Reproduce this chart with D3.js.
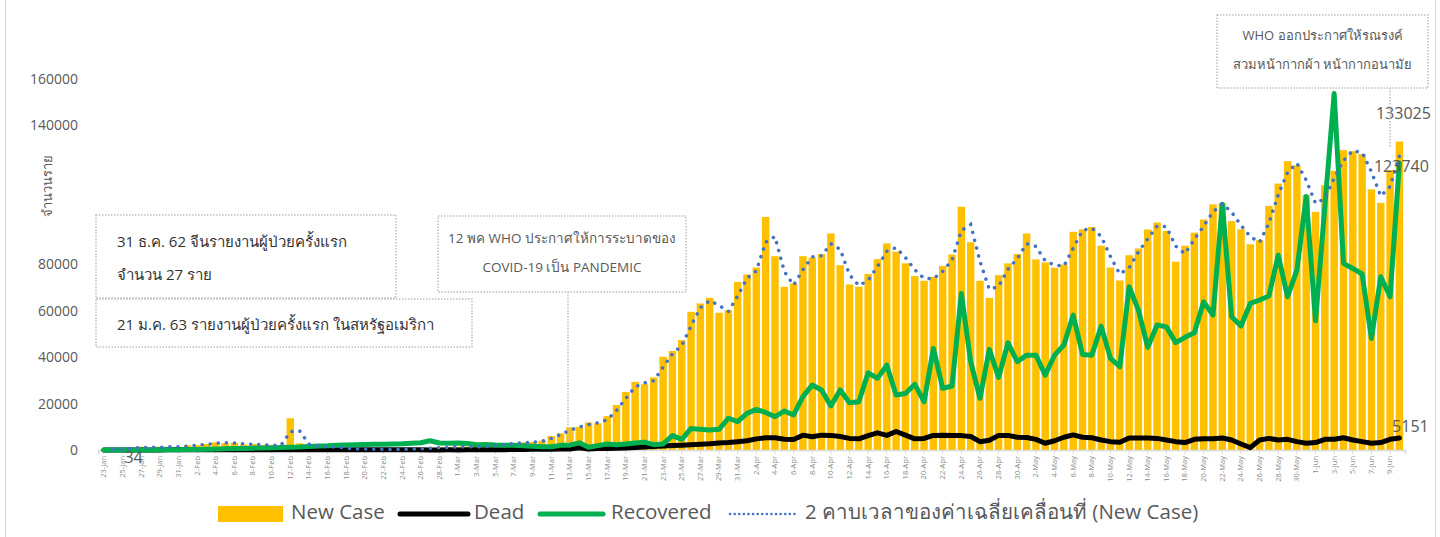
<!DOCTYPE html>
<html>
<head>
<meta charset="utf-8">
<script src="https://cdnjs.cloudflare.com/ajax/libs/d3/7.8.5/d3.min.js"></script>
<style>
  body { margin: 0; background: #fff; }
  svg text { font-family: "Open Sans", "Noto Sans", "DejaVu Sans", sans-serif; }
</style>
</head>
<body>
<div id="chart"></div>
<script>
// data (one value per day, 23-Jan .. 10-Jun)
var startDate = new Date(2020, 0, 23);

var newCase = [
  200, 300, 600, 800, 1400, 900, 1400, 1400, 1400, 2000,
  2100, 2600, 3300, 2900, 3100, 2300, 2600, 2100, 2000, 2000,
  13700, 2900, 2100, 1300, 1500, 1000, 600, 400, 400, 300,
  300, 200, 400, 400, 600, 900, 1100, 1200, 1400, 1400,
  1400, 1600, 2000, 2600, 3000, 3300, 3400, 4000, 6000, 7200,
  9800, 10000, 11900, 11500, 14600, 19400, 25000, 29400, 28400, 31300,
  40200, 42700, 47400, 59600, 63200, 65600, 59200, 60300, 72500, 75700,
  78700, 100500, 83600, 70400, 71800, 83600, 83000, 84500, 93400, 79700,
  71400, 70400, 75900, 82300, 89100, 85500, 80500, 75000, 73000, 74700,
  79400, 84300, 104900, 89600, 73000, 65600, 75400, 80500, 84500, 93400,
  82200, 80900, 78600, 80000, 94100, 95200, 96200, 88100, 78700, 73100,
  84000, 86900, 95100, 98100, 94500, 81200, 88100, 93700, 99400, 105900,
  106500, 98700, 95200, 88700, 90500, 105300, 114900, 124600, 122800, 110000,
  102700, 114200, 120400, 129300, 128900, 127600, 112400, 106600, 120700, 133025
];

var dead = [
  20, 20, 15, 25, 25, 40, 50, 60, 60, 70,
  85, 60, 65, 70, 70, 85, 90, 100, 110, 100,
  250, 120, 140, 140, 100, 110, 120, 130, 100, 110,
  90, 70, 80, 70, 60, 50, 40, 60, 50, 60,
  70, 90, 100, 150, 200, 250, 300, 350, 350, 400,
  450, 1000, 400, 600, 700, 800, 900, 1100, 1300, 1500,
  1700, 1900, 2100, 2300, 2500, 2700, 3000, 3200, 3600, 4000,
  4800, 5300, 5300, 4600, 4500, 6400, 5700, 6400, 6300, 5800,
  5000, 4800, 6200, 7400, 6300, 8000, 6400, 4800, 5000, 6300,
  6400, 6300, 6200, 5800, 3600, 4200, 6300, 6300, 5500, 5400,
  4600, 2900, 4000, 5500, 6500, 5500, 5300, 4300, 3600, 3300,
  5200, 5200, 5200, 5000, 4300, 3600, 3200, 4600, 4900, 4900,
  5200, 4300, 2600, 1000, 4300, 5000, 4300, 4600, 3600, 2900,
  3200, 4600, 4600, 5300, 4300, 3600, 2900, 3200, 4600, 5151
];

var recovered = [
  0, 0, 10, 20, 40, 50, 80, 100, 150, 200,
  250, 300, 400, 500, 600, 700, 800, 900, 1000, 1100,
  1200, 1300, 1500, 1700, 1800, 2000, 2200, 2300, 2400, 2500,
  2500, 2600, 2700, 2900, 3100, 4000, 3000, 2900, 3000, 2800,
  2300, 2400, 2200, 2100, 2000, 1800, 1600, 1400, 1400, 2000,
  2100, 3100, 1200, 1900, 2600, 2300, 2600, 3000, 3400, 2300,
  2600, 6200, 4600, 9300, 8900, 8600, 8900, 13700, 12200, 15800,
  17500, 16200, 14400, 16800, 15100, 23000, 28000, 25900, 19000, 25900,
  20400, 20800, 33300, 30900, 36600, 23700, 24400, 28400, 20800, 43800,
  26600, 27600, 67500, 38100, 22300, 43400, 31300, 46200, 38100, 40900,
  40900, 32300, 40900, 45300, 58200, 41200, 40900, 53400, 39500, 35900,
  70400, 60300, 44300, 53900, 53100, 46300, 48600, 50600, 63900, 58200,
  106000, 57500, 53500, 63200, 64700, 66400, 84000, 66100, 77600, 109300,
  55700, 105000, 153700, 80500, 78300, 75900, 48100, 74700, 66100, 123740
];

var yTicks = [0, 20000, 40000, 60000, 80000, 140000, 160000];

// labels shown next to single points
var pointLabels = [
  {series: "dead", index: 2, text: "34", dx: 11, dy: 9},
  {series: "newCase", index: 139, text: "133025", dx: 4, dy: -27},
  {series: "recovered", index: 139, text: "123740", dx: 2, dy: 5},
  {series: "dead", index: 139, text: "5151", dx: 11, dy: -10}
];

var notes = [
  {x: 96, y: 215, w: 300, h: 83, anchor: "start", size: 15, fill: "#333333",
   lines: ["31 ธ.ค. 62 จีนรายงานผู้ป่วยครั้งแรก", "จำนวน 27 ราย"]},
  {x: 96, y: 299, w: 376, h: 48, anchor: "start", size: 15, fill: "#333333",
   lines: ["21 ม.ค. 63 รายงานผู้ป่วยครั้งแรก ในสหรัฐอเมริกา"]},
  {x: 438, y: 216, w: 248, h: 76, anchor: "middle", size: 13.5, fill: "#595959",
   lines: ["12 พค WHO ประกาศให้การระบาดของ", "COVID-19 เป็น PANDEMIC"], leader: [568, 445]},
  {x: 1217, y: 15, w: 211, h: 73, anchor: "middle", size: 13, fill: "#595959",
   lines: ["WHO ออกประกาศให้รณรงค์", "สวมหน้ากากผ้า หน้ากากอนามัย"], leader: [1390, 148]}
];

var width = 1440, height = 537;
var dates = newCase.map(function(d, i) { return d3.timeDay.offset(startDate, i); });
var fmt = d3.timeFormat("%-d-%b");

var svg = d3.select("#chart").append("svg")
  .attr("width", width).attr("height", height);

// frame
svg.append("rect").attr("x", 5.5).attr("y", -2).attr("width", 1430).attr("height", 541)
  .attr("fill", "none").attr("stroke", "#d9d9d9");

var x = d3.scaleBand().domain(d3.range(newCase.length)).range([98.3, 1405]).padding(0.2);
var y = d3.scaleLinear().domain([0, 160000]).range([450, 79]);
var cx = function(i) { return x(i) + x.bandwidth() / 2; };

// y axis (labels only)
var yAxis = svg.append("g").attr("transform", "translate(78,0)")
  .call(d3.axisLeft(y).tickValues(yTicks).tickSize(0).tickPadding(0).tickFormat(d3.format("d")));
yAxis.select(".domain").remove();
yAxis.selectAll("text").attr("fill", "#595959").style("font-size", "14px");

svg.append("text")
  .attr("transform", "translate(52,186) rotate(-90)")
  .attr("text-anchor", "middle").attr("fill", "#595959").style("font-size", "13px")
  .text("จำนวนราย");

// bars
svg.append("g").selectAll("rect").data(newCase).enter().append("rect")
  .attr("x", function(d, i) { return x(i); })
  .attr("width", x.bandwidth())
  .attr("y", function(d) { return y(d); })
  .attr("height", function(d) { return 450 - y(d); })
  .attr("fill", "#FFC000");

// x axis
var xAxis = svg.append("g").attr("transform", "translate(0,450)")
  .call(d3.axisBottom(x)
    .tickValues(d3.range(0, newCase.length, 2))
    .tickSize(4)
    .tickFormat(function(i) { return fmt(dates[i]); }));
xAxis.select(".domain").attr("stroke", "#d9d9d9").attr("stroke-width", 1.5);
xAxis.selectAll("line").attr("stroke", "#d9d9d9");
xAxis.selectAll("text")
  .attr("transform", "rotate(-90)")
  .attr("text-anchor", "end")
  .attr("x", -6).attr("y", 0).attr("dy", "0.32em")
  .attr("fill", "#8c8c8c")
  .style("font-size", "7.5px");

var line = d3.line()
  .x(function(d, i) { return cx(i); })
  .y(function(d) { return y(d); });

svg.append("path").datum(dead).attr("d", line)
  .attr("fill", "none").attr("stroke", "#000").attr("stroke-width", 5)
  .attr("stroke-linejoin", "round").attr("stroke-linecap", "round");

svg.append("path").datum(recovered).attr("d", line)
  .attr("fill", "none").attr("stroke", "#00B050").attr("stroke-width", 5)
  .attr("stroke-linejoin", "round").attr("stroke-linecap", "round");

// 2 period moving average of new cases (trendline)
var ma = d3.range(1, newCase.length).map(function(i) {
  return {i: i, v: (newCase[i - 1] + newCase[i]) / 2};
});
svg.append("path").datum(ma)
  .attr("d", d3.line().x(function(d) { return cx(d.i); }).y(function(d) { return y(d.v); }))
  .attr("fill", "none").attr("stroke", "#4472C4").attr("stroke-width", 3.5)
  .attr("stroke-dasharray", "0.1 8").attr("stroke-linecap", "round");

// point labels
var series = {newCase: newCase, dead: dead, recovered: recovered};
svg.append("g").selectAll("text").data(pointLabels).enter().append("text")
  .attr("x", function(d) { return cx(d.index) + d.dx; })
  .attr("y", function(d) { return y(series[d.series][d.index]) + d.dy; })
  .attr("text-anchor", "middle").attr("dominant-baseline", "middle")
  .attr("fill", "#595959").style("font-size", "16px")
  .text(function(d) { return d.text; });

// annotation boxes
notes.forEach(function(n) {
  var g = svg.append("g");
  if (n.leader) {
    g.append("line")
      .attr("x1", n.leader[0]).attr("x2", n.leader[0])
      .attr("y1", n.y + n.h).attr("y2", n.leader[1])
      .attr("stroke", "#bfbfbf").attr("stroke-width", 1.5).attr("stroke-dasharray", "1.5 1.5");
  }
  g.append("rect").attr("x", n.x).attr("y", n.y).attr("width", n.w).attr("height", n.h)
    .attr("fill", "#fff").attr("stroke", "#bfbfbf").attr("stroke-width", 1.5)
    .attr("stroke-dasharray", "1.5 1.5");
  var tx = n.anchor == "middle" ? n.x + n.w / 2 : n.x + 21;
  var gap = n.lines.length > 1 ? (n.size > 14 ? 33 : 29) : 0;
  var top = n.y + n.h / 2 - gap * (n.lines.length - 1) / 2 + (n.size > 14 ? 3 : 0);
  n.lines.forEach(function(t, k) {
    g.append("text").attr("x", tx).attr("y", top + k * gap)
      .attr("dominant-baseline", "middle").attr("text-anchor", n.anchor)
      .attr("fill", n.fill).style("font-size", n.size + "px").text(t);
  });
});

// legend
var lg = svg.append("g").attr("transform", "translate(0,514)");
lg.append("rect").attr("x", 218).attr("y", -8).attr("width", 65).attr("height", 16).attr("fill", "#FFC000");
lg.append("line").attr("x1", 400).attr("x2", 468).attr("stroke", "#000").attr("stroke-width", 5).attr("stroke-linecap", "round");
lg.append("line").attr("x1", 540).attr("x2", 603).attr("stroke", "#00B050").attr("stroke-width", 5).attr("stroke-linecap", "round");
lg.append("line").attr("x1", 730).attr("x2", 797).attr("stroke", "#4472C4").attr("stroke-width", 2.5)
  .attr("stroke-dasharray", "0.1 4.5").attr("stroke-linecap", "round");
[[291, "New Case"], [474, "Dead"], [611, "Recovered"], [805, "2 คาบเวลาของค่าเฉลี่ยเคลื่อนที่ (New Case)"]]
  .forEach(function(t) {
    lg.append("text").attr("x", t[0]).attr("y", 0).attr("dominant-baseline", "middle")
      .attr("fill", "#595959").style("font-size", "20.5px").text(t[1]);
  });
</script>
</body>
</html>
